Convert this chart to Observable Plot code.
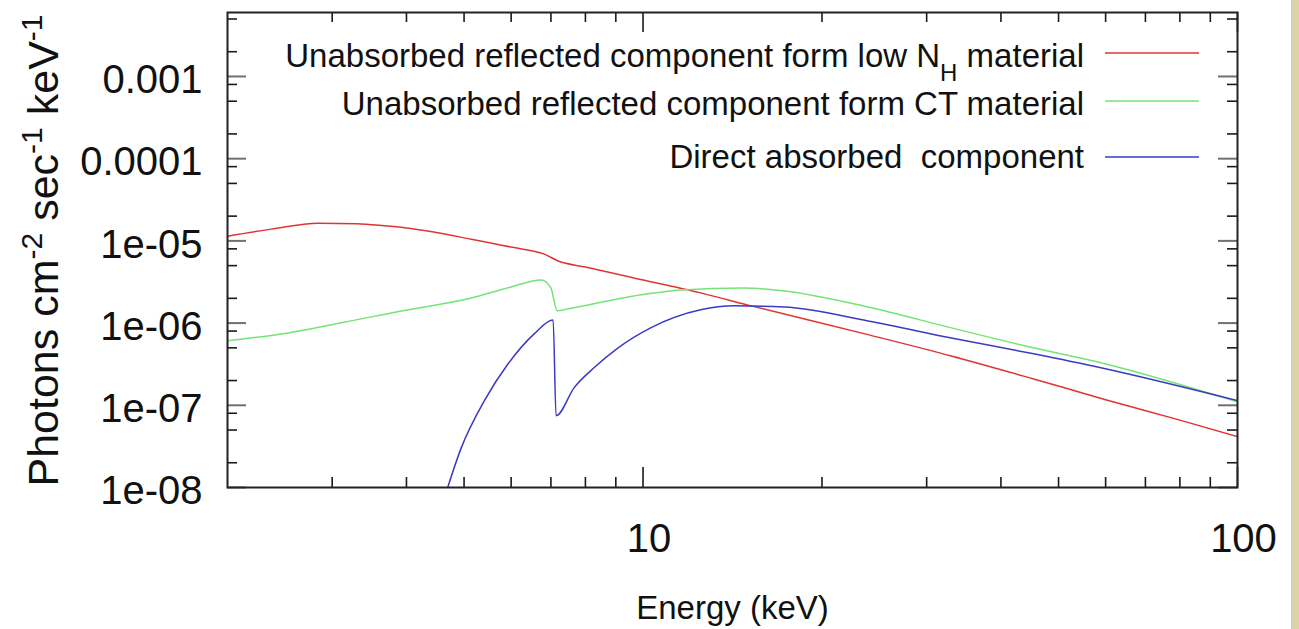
<!DOCTYPE html>
<html>
<head>
<meta charset="utf-8">
<script src="https://cdn.jsdelivr.net/npm/d3@7"></script>
<script src="https://cdn.jsdelivr.net/npm/@observablehq/plot@0.6"></script>
<style>
  html, body { margin: 0; padding: 0; background: #fff; }
  #wrap { position: relative; width: 1299px; height: 629px; overflow: hidden; background: #fff; }
  #band { position: absolute; left: 1291px; top: 0; width: 8px; height: 629px; background: #dcd3ab; }
  svg text { fill: #111; }
</style>
</head>
<body>
<div id="wrap"><div id="chart"></div><div id="band"></div></div>
<script>
const FONT = "'Liberation Sans', Arial, Helvetica, sans-serif";

// Unabsorbed reflection from low-NH material (keV, photons cm^-2 s^-1 keV^-1)
const lowNhEnergy = [2.0, 2.37, 2.84, 3.30, 3.67, 3.92, 5.14, 6.0, 6.82, 7.2, 8.0, 9.65, 12.5, 15.2, 23.9, 33, 45.4, 60, 80, 100];
const lowNhFlux   = [1.14e-5, 1.39e-5, 1.64e-5, 1.62e-5, 1.53e-5, 1.46e-5, 1.05e-5, 8.4e-6, 6.9e-6, 5.7e-6, 4.8e-6, 3.54e-6, 2.33e-6, 1.62e-6, 7.24e-7, 3.98e-7, 2.09e-7, 1.17e-7, 6.6e-8, 4.16e-8];

// Unabsorbed reflection from Compton-thick material
const ctEnergy = [2.0, 2.53, 3.49, 3.92, 5.14, 6.0, 6.74, 7.0, 7.17, 7.49, 9.65, 11.6, 14.8, 17.3, 23.9, 33, 45.4, 58.9, 100];
const ctFlux   = [6.08e-7, 7.6e-7, 1.19e-6, 1.40e-6, 2.02e-6, 2.75e-6, 3.34e-6, 2.67e-6, 1.41e-6, 1.49e-6, 2.14e-6, 2.53e-6, 2.67e-6, 2.46e-6, 1.57e-6, 8.75e-7, 5.0e-7, 3.29e-7, 1.10e-7];

// Direct absorbed continuum
const directEnergy = [4.6, 4.94, 5.41, 5.93, 6.56, 7.06, 7.14, 7.66, 8.27, 9.08, 10.3, 12.5, 14.2, 17.3, 23.9, 33, 45.4, 58.9, 100];
const directFlux   = [6.3e-9, 2.97e-8, 1.14e-7, 3.2e-7, 7.4e-7, 1.09e-6, 7.48e-8, 1.64e-7, 2.86e-7, 5.0e-7, 8.75e-7, 1.45e-6, 1.62e-6, 1.57e-6, 1.06e-6, 6.6e-7, 4.23e-7, 2.86e-7, 1.14e-7];

const seriesNames  = ["Unabsorbed reflected component form low N|H| material", "Unabsorbed reflected component form CT material", "Direct absorbed  component"];
const seriesColors = ["#e03434", "#74e474", "#3a3ac4"];

// Axis ticks and their labels
const xTickValues = [10, 100];
const xTickLabels = ["10", "100"];
const xMinorTicks = [3, 4, 5, 6, 7, 8, 9, 20, 30, 40, 50, 60, 70, 80, 90];
const yTickValues = [1e-8, 1e-7, 1e-6, 1e-5, 1e-4, 1e-3];
const yTickLabels = ["1e-08", "1e-07", "1e-06", "1e-05", "0.0001", "0.001"];
const yMinorTicks = [2e-8, 5e-8, 8e-8, 2e-7, 5e-7, 8e-7, 2e-6, 5e-6, 8e-6, 2e-5, 5e-5, 8e-5, 2e-4, 5e-4, 8e-4, 2e-3, 5e-3];

const toRows = (es, fs) => es.map((e, i) => ({e, f: fs[i]}));
const series = [toRows(lowNhEnergy, lowNhFlux), toRows(ctEnergy, ctFlux), toRows(directEnergy, directFlux)];

const W = 1299, H = 629, ML = 227, MR = 62, MT = 12, MB = 142;
const innerW = W - ML - MR, innerH = H - MT - MB;
const xLabelMap = new Map(xTickValues.map((v, i) => [v, xTickLabels[i]]));
const yLabelMap = new Map(yTickValues.map((v, i) => [v, yTickLabels[i]]));

const minorLen = 10, majorLen = 19;

const plot = Plot.plot({
  width: W, height: H,
  marginLeft: ML, marginRight: MR, marginTop: MT, marginBottom: MB,
  style: {fontFamily: FONT, background: "transparent", color: "#111"},
  x: {type: "log", domain: [2, 100]},
  y: {type: "log", domain: [1e-8, 6e-3]},
  marks: [
    // inward tick marks on all four sides
    Plot.tickY(yMinorTicks, {y: d => d, insetRight: innerW - minorLen, stroke: "#1a1a1a", strokeWidth: 1.6}),
    Plot.tickY(yMinorTicks, {y: d => d, insetLeft: innerW - minorLen, stroke: "#1a1a1a", strokeWidth: 1.6}),
    Plot.tickY(yTickValues, {y: d => d, insetRight: innerW - majorLen, stroke: "#707070", strokeWidth: 2}),
    Plot.tickY(yTickValues, {y: d => d, insetLeft: innerW - majorLen, stroke: "#707070", strokeWidth: 2}),
    Plot.tickX(xMinorTicks, {x: d => d, insetTop: innerH - minorLen, stroke: "#1a1a1a", strokeWidth: 1.6}),
    Plot.tickX(xMinorTicks, {x: d => d, insetBottom: innerH - minorLen, stroke: "#1a1a1a", strokeWidth: 1.6}),
    Plot.tickX(xTickValues, {x: d => d, insetTop: innerH - 20, stroke: "#1a1a1a", strokeWidth: 1.6}),
    Plot.tickX(xTickValues, {x: d => d, insetBottom: innerH - 20, stroke: "#1a1a1a", strokeWidth: 1.6}),
    Plot.axisY({ticks: yTickValues, tickSize: 0, tickPadding: 25, tickFormat: d => yLabelMap.get(d), fontSize: 40, dy: 4, label: null}),
    Plot.axisX({ticks: xTickValues, tickSize: 0, tickPadding: 36, tickFormat: d => xLabelMap.get(d), fontSize: 40, dx: 6, label: null}),
    Plot.text(["Energy (keV)"], {frameAnchor: "bottom", lineAnchor: "bottom", dy: 131, fontSize: 33, fill: "#111"}),
    ...series.map((rows, i) => Plot.line(rows, {x: "e", y: "f", stroke: seriesColors[i], strokeWidth: 1.5, curve: "monotone-x", clip: true})),
    Plot.frame({stroke: "#222", strokeWidth: 2})
  ]
});

document.getElementById("chart").appendChild(plot);

const svg = d3.select(plot);

// y-axis title with superscript exponents
const yTitle = svg.append("text")
  .attr("transform", `translate(58,${MT + innerH / 2 + 1}) rotate(-90)`)
  .attr("text-anchor", "middle")
  .attr("font-family", FONT)
  .attr("font-size", 43)
  .attr("fill", "#111");
[["Photons cm", false], ["-2", true], [" sec", false], ["-1", true], [" keV", false], ["-1", true]].forEach(([t, sup]) => {
  const s = yTitle.append("tspan").text(t);
  if (sup) s.attr("font-size", 30).attr("baseline-shift", "super");
});

// legend: right-aligned names with a short line sample for each series
const legendBaselines = [67, 115, 168];
const legendLineY = [53, 101, 157];
const legendGroup = svg.append("g").attr("font-family", FONT).attr("font-size", 33).style("white-space", "pre");
seriesNames.forEach((name, i) => {
  const t = legendGroup.append("text").attr("x", 1084).attr("y", legendBaselines[i]).attr("text-anchor", "end").attr("fill", "#111");
  name.split("|").forEach((part, k) => {
    const s = t.append("tspan").text(part);
    if (k === 1) s.attr("font-size", 24).attr("baseline-shift", "sub");
  });
  legendGroup.append("line")
    .attr("x1", 1105).attr("x2", 1199)
    .attr("y1", legendLineY[i]).attr("y2", legendLineY[i])
    .attr("stroke", seriesColors[i]).attr("stroke-width", 1.5);
});
</script>
</body>
</html>
